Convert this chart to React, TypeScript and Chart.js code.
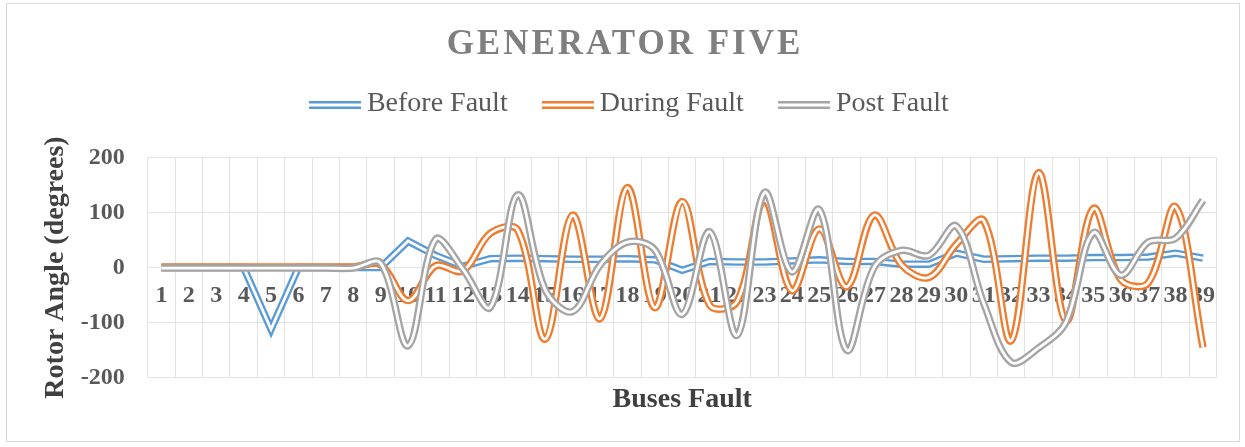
import { useEffect, useRef } from 'react';
import { Chart, registerables } from 'chart.js';

Chart.register(...registerables);

const TITLE = 'GENERATOR FIVE';
const X_TITLE = 'Buses Fault';
const Y_TITLE = 'Rotor Angle (degrees)';

const categories = [
  '1', '2', '3', '4', '5', '6', '7', '8', '9', '10',
  '11', '12', '13', '14', '15', '16', '17', '18', '19', '20',
  '21', '22', '23', '24', '25', '26', '27', '28', '29', '30',
  '31', '32', '33', '34', '35', '36', '37', '38', '39',
];

const beforeFault = [
  0, 0, 0, 0, -112, 0, 0, 0, 0, 48,
  22, 2, 16, 17, 16, 15, 15, 16, 14, -5,
  11, 10, 10, 12, 14, 11, 11, 6, 6, 26,
  15, 16, 17, 17, 18, 18, 19, 26, 17,
];

const duringFault = [
  1, 1, 1, 1, 1, 1, 1, 1, 5, -60,
  3, -6, 62, 68, -130, 95, -93, 145, -73, 120,
  -68, -62, 122, -42, 70, -35, 95, 5, -18, 42,
  85, -133, 172, -97, 107, -22, -28, 110, -145,
];

const postFault = [
  -1, -1, -1, -1, -1, -1, -1, -1, 8, -142,
  51, -3, -72, 132, -40, -80, 4, 46, 32, -85,
  65, -123, 136, -8, 105, -150, 0, 31, 22, 75,
  -65, -172, -146, -99, 63, -14, 46, 53, 122,
];

const seriesNames = ['Before Fault', 'During Fault', 'Post Fault'];
const seriesColors = ['#5b9bd5', '#ed7d31', '#a5a5a5'];
const seriesTension = [0, 0.35, 0.35];
const yMin = -200;
const yMax = 200;
const yStep = 100;

const FONT = '"Liberation Serif", "Times New Roman", serif';

function makeLegendSymbol(color: string) {
  const c = document.createElement('canvas');
  c.width = 64;
  c.height = 12;
  const ctx = c.getContext('2d')!;
  ctx.fillStyle = color;
  ctx.fillRect(11, 3, 52, 2.5);
  ctx.fillRect(11, 8.5, 52, 2.5);
  return c;
}

const titlePlugin = {
  id: 'customTitle',
  afterDraw(chart: any) {
    const ctx = chart.ctx as CanvasRenderingContext2D;
    ctx.save();
    ctx.font = `bold 35px ${FONT}`;
    ctx.fillStyle = '#7f7f7f';
    ctx.textAlign = 'center';
    ctx.textBaseline = 'middle';
    (ctx as any).letterSpacing = '3px';
    ctx.fillText(TITLE, 625, 45);
    ctx.restore();
  },
};

const borderPlugin = {
  id: 'outerBorder',
  afterDraw(chart: any) {
    const ctx = chart.ctx as CanvasRenderingContext2D;
    ctx.save();
    ctx.strokeStyle = '#d9d9d9';
    ctx.lineWidth = 1;
    ctx.strokeRect(6.5, 3.5, 1233, 438);
    ctx.restore();
  },
};

export default function App() {
  const canvasRef = useRef<HTMLCanvasElement | null>(null);

  useEffect(() => {
    if (!canvasRef.current) return;
    const series = [beforeFault, duringFault, postFault];
    const datasets: any[] = [];
    series.forEach((data, i) => {
      datasets.push({
        label: seriesNames[i],
        data,
        borderColor: seriesColors[i],
        backgroundColor: seriesColors[i],
        borderWidth: 7.5,
        pointRadius: 0,
        pointHoverRadius: 0,
        tension: seriesTension[i],
        fill: false,
        order: 10 - i * 2,
      });
      datasets.push({
        label: seriesNames[i] + ' inner',
        data,
        borderColor: '#ffffff',
        backgroundColor: '#ffffff',
        borderWidth: 2.8,
        pointRadius: 0,
        pointHoverRadius: 0,
        tension: seriesTension[i],
        fill: false,
        order: 9 - i * 2,
      });
    });

    const symbols = seriesColors.map((c) => makeLegendSymbol(c));

    const chart = new Chart(canvasRef.current, {
      type: 'line',
      data: { labels: categories, datasets },
      options: {
        animation: false,
        responsive: true,
        maintainAspectRatio: false,
        layout: { padding: { top: 57.7, left: 39.1, right: 28.3, bottom: 26.7 } },
        plugins: {
          title: { display: false },
          tooltip: { enabled: false },
          legend: {
            display: true,
            position: 'top',
            labels: {
              usePointStyle: true,
              pointStyleWidth: 45.9,
              padding: 32.3,
              color: '#595959',
              font: { family: FONT, size: 28, weight: 'normal' },
              generateLabels: () =>
                seriesNames.map((name, i) => ({
                  text: name,
                  fillStyle: seriesColors[i],
                  strokeStyle: seriesColors[i],
                  lineWidth: 0,
                  pointStyle: symbols[i],
                  hidden: false,
                  datasetIndex: i * 2,
                  fontColor: '#595959',
                })),
            },
          },
        },
        scales: {
          x: {
            type: 'category',
            position: { y: 0 } as any,
            offset: true,
            grid: { offset: true, color: '#e3e3e3', lineWidth: 1, drawTicks: false },
            border: { display: false },
            ticks: {
              autoSkip: false,
              maxRotation: 0,
              minRotation: 0,
              padding: 14,
              color: '#595959',
              font: { family: FONT, size: 24, weight: 'bold' },
            },
          },
          xBottom: {
            type: 'category',
            axis: 'x',
            position: 'bottom',
            labels: categories,
            grid: { display: false, drawTicks: false },
            border: { display: false },
            ticks: { display: false },
            title: {
              display: true,
              text: X_TITLE,
              color: '#404040',
              font: { family: FONT, size: 28, weight: 'bold' },
              padding: { top: 5, bottom: 4 },
            },
          },
          xTop: {
            type: 'category',
            axis: 'x',
            position: 'top',
            labels: categories,
            grid: { display: false, drawTicks: false },
            border: { display: false },
            ticks: { display: false },
            title: {
              display: true,
              text: '',
              font: { family: FONT, size: 10 },
              padding: { top: 0, bottom: 17.3 },
            },
          },
          y: {
            type: 'linear',
            position: 'left',
            min: yMin,
            max: yMax,
            afterFit: (scale: any) => {
              scale.width = 108.6;
            },
            grid: { color: '#e3e3e3', lineWidth: 1, drawTicks: false },
            border: { display: false },
            ticks: {
              stepSize: yStep,
              padding: 23,
              color: '#595959',
              font: { family: FONT, size: 24, weight: 'bold' },
            },
            title: {
              display: true,
              text: Y_TITLE,
              color: '#404040',
              font: { family: FONT, size: 28, weight: 'bold' },
              padding: { top: 0, bottom: 8 },
            },
          },
        },
      },
      plugins: [titlePlugin, borderPlugin],
    } as any);

    return () => chart.destroy();
  }, []);

  return (
    <div style={{ position: 'absolute', left: 0, top: 0, width: 1245, height: 447, background: '#ffffff' }}>
      <canvas ref={canvasRef} />
    </div>
  );
}
